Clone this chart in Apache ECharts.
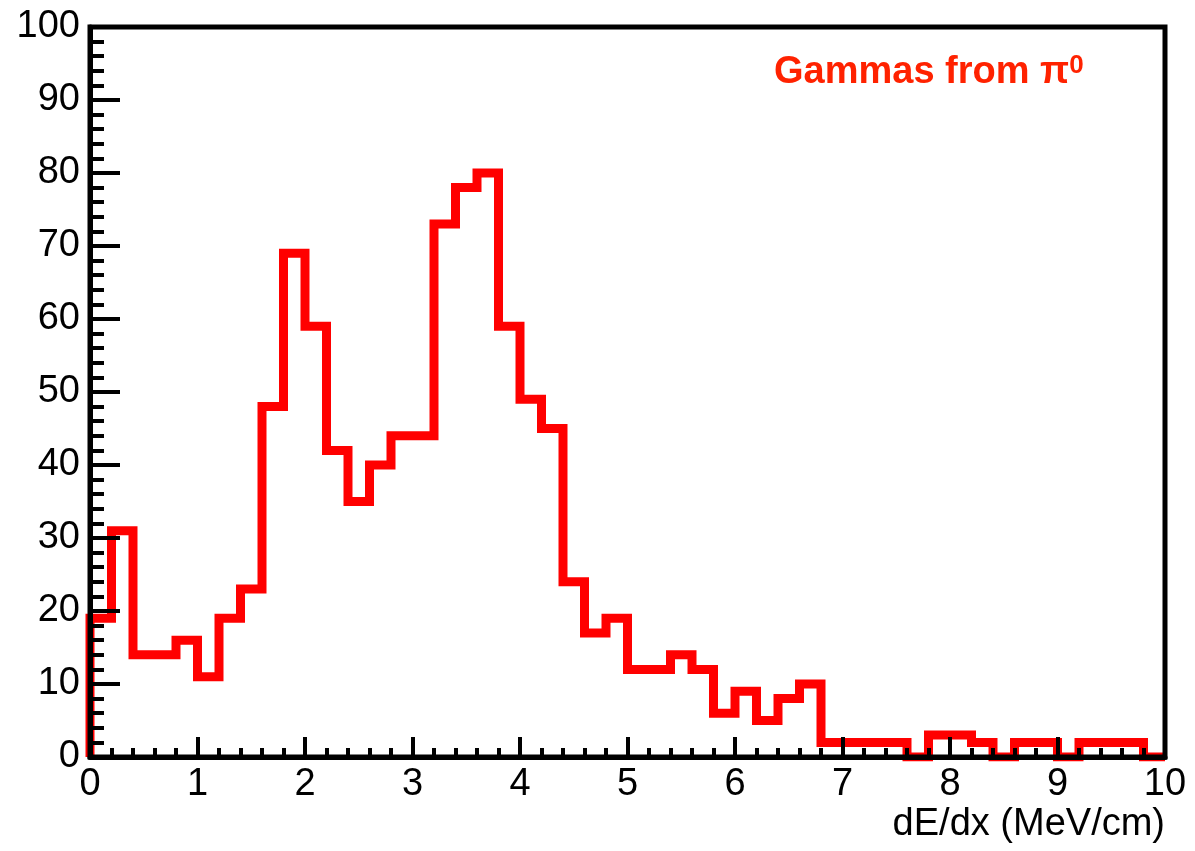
<!DOCTYPE html>
<html>
<head>
<meta charset="utf-8">
<script src="https://cdn.jsdelivr.net/npm/echarts@6/dist/echarts.min.js"></script>
<style>
html,body{margin:0;padding:0;background:#fff;}
#chart{width:1195px;height:851px;}
</style>
</head>
<body>
<div id="chart"></div>
<script>
// Histogram: dE/dx (MeV/cm), bins of width 0.2 from 0 to 10
const binWidth = 0.2;
const counts = [19,31,14,14,16,11,19,23,48,69,
                59,42,35,40,44,44,73,78,80,59,
                49,45,24,17,19,12,12,14,12,6,
                9,5,8,10,2,2,2,2,0,3,
                3,2,0,2,2,0,2,2,2,0];
const xTicks = [0,1,2,3,4,5,6,7,8,9,10];
const yTicks = [0,10,20,30,40,50,60,70,80,90,100];
const xTitle = 'dE/dx (MeV/cm)';
const legendText = 'Gammas from π';
const legendSup = '0';

const FONT = 'Liberation Sans, Arial, Helvetica, sans-serif';

// step points at bin edges
const stepData = [[0, 0]];
counts.forEach((c, i) => stepData.push([+(i * binWidth).toFixed(1), c]));
stepData.push([+(counts.length * binWidth).toFixed(1), 0]);

const chart = echarts.init(document.getElementById('chart'), null, {renderer: 'canvas'});
const axisCommon = {
  axisLine: {show: true, onZero: false, lineStyle: {color: '#000', width: 5}},
  splitLine: {show: false},
  zlevel: 1,
  z: 5
};
chart.setOption({
  animation: false,
  backgroundColor: '#fff',
  grid: {left: 90, top: 27, width: 1075, height: 730, show: true,
         borderColor: '#000', borderWidth: 5, backgroundColor: 'transparent', zlevel: 1, z: 5},
  xAxis: Object.assign({}, axisCommon, {
    type: 'value', min: xTicks[0], max: xTicks[xTicks.length - 1], interval: 1,
    axisTick: {show: true, inside: true, length: 20, lineStyle: {color: '#000', width: 4}},
    minorTick: {show: true, splitNumber: 5, length: 9, lineStyle: {color: '#000', width: 4}},
    axisLabel: {color: '#000', fontSize: 38, fontFamily: FONT, margin: 9,
                showMinLabel: true, showMaxLabel: true}
  }),
  yAxis: Object.assign({}, axisCommon, {
    type: 'value', min: yTicks[0], max: yTicks[yTicks.length - 1], interval: 10,
    axisTick: {show: true, inside: true, length: 30, lineStyle: {color: '#000', width: 4}},
    minorTick: {show: true, splitNumber: 5, length: 14, lineStyle: {color: '#000', width: 4}},
    axisLabel: {color: '#000', fontSize: 38, fontFamily: FONT, margin: 10,
                showMinLabel: true, showMaxLabel: true}
  }),
  graphic: [
    {type: 'text', right: 30, top: 806, z: 10,
     style: {text: xTitle, font: '38px ' + FONT, fill: '#000'}},
    {type: 'text', left: 774, top: 53, z: 10,
     style: {text: '{a|' + legendText + '}{b|' + legendSup + '}',
             rich: {
               a: {fontSize: 38, fontWeight: 'bold', fontFamily: FONT, fill: '#ff2200', color: '#ff2200', lineHeight: 40},
               b: {fontSize: 26, fontWeight: 'bold', fontFamily: FONT, fill: '#ff2200', color: '#ff2200', verticalAlign: 'top', lineHeight: 40}
             }}}
  ],
  series: [{
    type: 'line',
    data: stepData,
    step: 'end',
    symbol: 'none',
    z: 1,
    lineStyle: {color: '#ff0000', width: 9, join: 'miter', cap: 'butt'}
  }]
});
</script>
</body>
</html>
